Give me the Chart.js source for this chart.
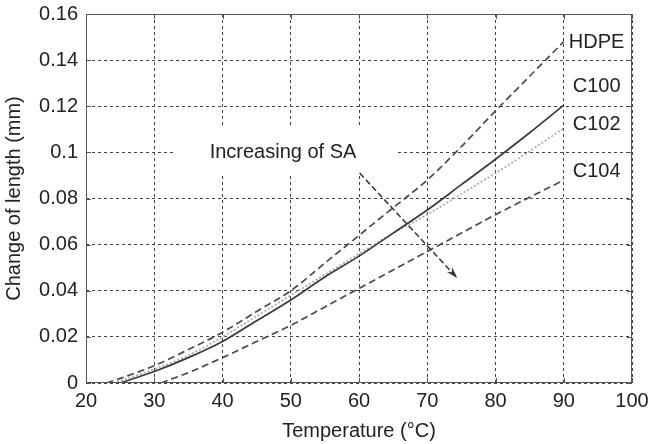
<!DOCTYPE html>
<html>
<head>
<meta charset="utf-8">
<script src="https://cdn.jsdelivr.net/npm/chart.js@4/dist/chart.umd.min.js"></script>
<style>
  html, body { margin: 0; padding: 0; background: #fff; }
  #wrap { width: 648px; height: 444px; }
</style>
</head>
<body>
<div id="wrap"><canvas id="lengthChart" width="648" height="444"></canvas></div>
<script>
// values
const seriesNames = ['HDPE', 'C100', 'C102', 'C104'];
const hdpeTemp = [23, 25, 30, 35, 40, 45, 50, 55, 60, 65, 70, 75, 80, 85, 90];
const hdpeLen = [0, 0.002, 0.0075, 0.0145, 0.022, 0.031, 0.040, 0.052, 0.064, 0.076, 0.088, 0.1025, 0.118, 0.133, 0.148];
const c100Temp = [25, 30, 35, 40, 45, 50, 55, 60, 65, 70, 75, 80, 85, 90];
const c100Len = [0, 0.005, 0.011, 0.018, 0.027, 0.036, 0.046, 0.055, 0.065, 0.075, 0.086, 0.097, 0.1085, 0.1205];
const c102Temp = [24, 30, 35, 40, 45, 50, 55, 60, 65, 70, 75, 80, 85, 90];
const c102Len = [0, 0.006, 0.012, 0.020, 0.029, 0.038, 0.047, 0.056, 0.065, 0.073, 0.082, 0.091, 0.1005, 0.1105];
const c104Temp = [31, 35, 40, 45, 50, 55, 60, 65, 70, 75, 80, 85, 90];
const c104Len = [0, 0.0045, 0.011, 0.018, 0.025, 0.033, 0.041, 0.049, 0.057, 0.065, 0.073, 0.0805, 0.088];
const xTicks = [20, 30, 40, 50, 60, 70, 80, 90, 100];
const yTicks = [0, 0.02, 0.04, 0.06, 0.08, 0.1, 0.12, 0.14, 0.16];
const noteText = 'Increasing of SA';

const FONT = '"Liberation Sans", Arial, Helvetica, sans-serif';

function pts(xs, ys) {
    return xs.map((x, i) => ({ x: x, y: ys[i] }));
}

// text + arrow drawn on top of the plot
const annotations = {
    id: 'annotations',
    beforeDatasetsDraw(chart) {
        const ctx = chart.ctx;
        // white box behind the note text
        ctx.save();
        ctx.fillStyle = '#fff';
        ctx.fillRect(175, 128, 223, 45);
        ctx.restore();
    },
    afterDatasetsDraw(chart) {
        const ctx = chart.ctx;
        const xs = chart.scales.x, ys = chart.scales.y;
        const a = chart.chartArea;
        ctx.save();
        // frame
        ctx.strokeStyle = '#555';
        ctx.lineWidth = 1;
        ctx.setLineDash([]);
        ctx.strokeRect(a.left + 0.5, a.top + 0.5, a.right - a.left - 1, a.bottom - a.top - 1);
        // inner ticks
        ctx.beginPath();
        xTicks.forEach(t => {
            const px = Math.round(xs.getPixelForValue(t)) + 0.5;
            ctx.moveTo(px, a.bottom); ctx.lineTo(px, a.bottom - 5);
            ctx.moveTo(px, a.top); ctx.lineTo(px, a.top + 5);
        });
        yTicks.forEach(t => {
            const py = Math.round(ys.getPixelForValue(t)) + 0.5;
            ctx.moveTo(a.left, py); ctx.lineTo(a.left + 5, py);
            ctx.moveTo(a.right, py); ctx.lineTo(a.right - 5, py);
        });
        ctx.stroke();

        // series labels
        ctx.fillStyle = '#222';
        ctx.font = '20px ' + FONT;
        ctx.textAlign = 'left';
        ctx.textBaseline = 'middle';
        const labelX = xs.getPixelForValue(90) + 5;
        const labelY = [0.1475, 0.1285, 0.112, 0.0915];
        seriesNames.forEach((n, i) => {
            ctx.fillText(n, n === 'HDPE' ? labelX : labelX + 4, ys.getPixelForValue(labelY[i]));
        });

        // note
        ctx.textAlign = 'center';
        ctx.fillText(noteText, 283, 152);

        // dashed arrow
        const x0 = xs.getPixelForValue(60.1), y0 = ys.getPixelForValue(0.091);
        const x1 = xs.getPixelForValue(74.4), y1 = ys.getPixelForValue(0.0455);
        ctx.strokeStyle = '#333';
        ctx.lineWidth = 1.5;
        ctx.setLineDash([6, 3]);
        ctx.beginPath();
        ctx.moveTo(x0, y0);
        ctx.lineTo(x1, y1);
        ctx.stroke();
        ctx.setLineDash([]);
        const ang = Math.atan2(y1 - y0, x1 - x0);
        ctx.fillStyle = '#333';
        ctx.beginPath();
        ctx.moveTo(x1, y1);
        ctx.lineTo(x1 - 12 * Math.cos(ang - 0.3), y1 - 12 * Math.sin(ang - 0.3));
        ctx.lineTo(x1 - 8 * Math.cos(ang), y1 - 8 * Math.sin(ang));
        ctx.lineTo(x1 - 12 * Math.cos(ang + 0.3), y1 - 12 * Math.sin(ang + 0.3));
        ctx.closePath();
        ctx.fill();
        ctx.restore();
    }
};

document.addEventListener('DOMContentLoaded', function() {
    const ctx = document.getElementById('lengthChart').getContext('2d');
    new Chart(ctx, {
        type: 'scatter',
        data: {
            datasets: [
                { label: 'HDPE', data: pts(hdpeTemp, hdpeLen), borderColor: '#4a4a4a', borderWidth: 1.7, borderDash: [7, 4] },
                { label: 'C100', data: pts(c100Temp, c100Len), borderColor: '#3a3a3a', borderWidth: 1.7 },
                { label: 'C102', data: pts(c102Temp, c102Len), borderColor: '#a8a8a8', borderWidth: 1.7, borderDash: [2, 2] },
                { label: 'C104', data: pts(c104Temp, c104Len), borderColor: '#4a4a4a', borderWidth: 1.7, borderDash: [7, 4] }
            ].map(d => Object.assign(d, { showLine: true, pointRadius: 0, cubicInterpolationMode: 'monotone', fill: false }))
        },
        options: {
            responsive: false,
            animation: false,
            layout: { padding: { top: 14, right: 16, left: 0, bottom: 0 } },
            plugins: { legend: { display: false }, tooltip: { enabled: false } },
            scales: {
                x: {
                    type: 'linear',
                    min: 20, max: 100,
                    afterBuildTicks: s => { s.ticks = xTicks.map(v => ({ value: v })); },
                    afterFit: s => { s.height = 61; s.paddingLeft = 0; s.paddingRight = 0; },
                    grid: { color: '#444', lineWidth: 1, drawTicks: false },
                    border: { display: false, dash: [3, 3] },
                    ticks: { color: '#222', font: { family: FONT, size: 20 }, padding: 6, maxRotation: 0 },
                    title: { display: true, text: 'Temperature (°C)', color: '#222', font: { family: FONT, size: 20 }, padding: { top: 0, bottom: 1 } }
                },
                y: {
                    min: 0, max: 0.16,
                    afterBuildTicks: s => { s.ticks = yTicks.map(v => ({ value: v })); },
                    afterFit: s => { s.width = 86; s.paddingTop = 0; s.paddingBottom = 0; },
                    grid: { color: '#444', lineWidth: 1, drawTicks: false },
                    border: { display: false, dash: [3, 3] },
                    ticks: { color: '#222', font: { family: FONT, size: 20 }, padding: 8, callback: v => String(+v.toFixed(2)) },
                    title: { display: true, text: 'Change of length (mm)', color: '#222', font: { family: FONT, size: 20 }, padding: { top: 2, bottom: 0 } }
                }
            }
        },
        plugins: [annotations]
    });
});
</script>
</body>
</html>
